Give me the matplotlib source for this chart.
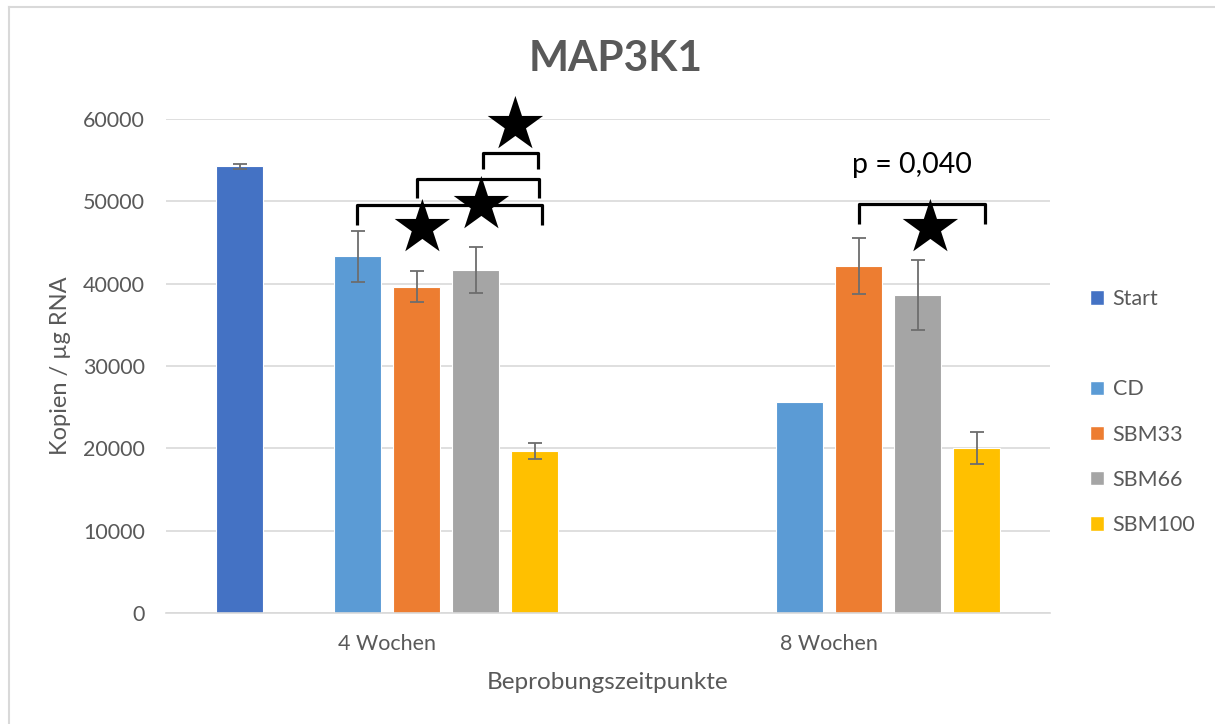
import matplotlib
matplotlib.use("Agg")
import matplotlib.pyplot as plt
from matplotlib.patches import Patch
from matplotlib.lines import Line2D
import numpy as np

plt.rcParams['font.family'] = ['Lato', 'DejaVu Sans']

# ---- data ----
categories = ["4 Wochen", "8 Wochen"]
series_names = ["Start", "", "CD", "SBM33", "SBM66", "SBM100"]
colors = ["#4472C4", "#FFFFFF", "#5B9BD5", "#ED7D31", "#A5A5A5", "#FFC000"]
start_vals = [54250, np.nan]
start_err = [300, np.nan]
blank_vals = [np.nan, np.nan]
blank_err = [np.nan, np.nan]
cd_vals = [43350, 25650]
cd_err = [3100, np.nan]
sbm33_vals = [39650, 42150]
sbm33_err = [1900, 3400]
sbm66_vals = [41650, 38600]
sbm66_err = [2800, 4250]
sbm100_vals = [19700, 20050]
sbm100_err = [1000, 1950]
yticks = [0, 10000, 20000, 30000, 40000, 50000, 60000]

values = [start_vals, blank_vals, cd_vals, sbm33_vals, sbm66_vals, sbm100_vals]
errors = [start_err, blank_err, cd_err, sbm33_err, sbm66_err, sbm100_err]

W, H = 1215, 724
fig = plt.figure(figsize=(W / 100, H / 100), dpi=100)
ax = fig.add_axes([166 / W, 1 - 613 / H, (1050 - 166) / W, (613 - 119) / H])

grey_txt = "#595959"
x = np.arange(len(categories))
slot = 59 / 442
bw = 47 / 442
for i, (vals, errs, col) in enumerate(zip(values, errors, colors)):
    if all(np.isnan(v) for v in vals):
        continue
    pos = x + (i - 2.5) * slot
    ax.bar(pos, vals, width=bw, color=col, edgecolor="white", linewidth=0.8, zorder=2)
    ax.errorbar(pos, vals, yerr=errs, fmt="none", ecolor="#6d6d6d",
                elinewidth=1.3, capsize=5, capthick=1.3, zorder=3)

ax.set_xlim(-0.5, 1.5)
ax.set_ylim(0, 60000)
ax.set_yticks(yticks)
ax.set_yticklabels([str(t) for t in yticks], fontsize=15.5, color=grey_txt)
ax.set_xticks(x)
ax.set_xticklabels(categories, fontsize=15.5, color=grey_txt)
ax.tick_params(axis="both", length=0)
ax.tick_params(axis="y", pad=15)
ax.tick_params(axis="x", pad=15)
ax.grid(axis="y", color="#D9D9D9", linewidth=1.2, zorder=0)
ax.set_axisbelow(True)
for s in ["top", "right", "left"]:
    ax.spines[s].set_visible(False)
ax.spines["bottom"].set_color("#D9D9D9")
ax.spines["bottom"].set_linewidth(1.2)

ax.set_ylabel("Kopien / µg RNA", fontsize=17, color=grey_txt, labelpad=9)
ax.set_xlabel("Beprobungszeitpunkte", fontsize=17.5, color=grey_txt, labelpad=13)
fig.text(616 / W, 1 - 59 / H, "MAP3K1", fontsize=30.5, fontweight="bold",
         color=grey_txt, ha="center", va="center")

# legend
handles = []
for n, c in zip(series_names, colors):
    if n == "":
        handles.append(Patch(facecolor="none", edgecolor="none", label=" "))
    else:
        handles.append(Patch(facecolor=c, edgecolor="white", label=n))
leg = fig.legend(handles=handles, loc="upper left", bbox_to_anchor=(1090 / W, 1 - 289 / H),
                 frameon=False, fontsize=15.5, labelspacing=1.17, handlelength=0.65,
                 handleheight=0.65, handletextpad=0.4, borderaxespad=0, borderpad=0)
for t in leg.get_texts():
    t.set_color(grey_txt)

# significance brackets
def bracket(x0, x1, ytop, ybot):
    xs = [x0, x0, x1, x1]
    ys = [ybot, ytop, ytop, ybot]
    ax.plot(xs, ys, color="black", lw=2.3, solid_joinstyle="round",
            solid_capstyle="butt", clip_on=False, zorder=4)

bracket(-0.067, 0.350, 49550, 47100)
bracket(0.069, 0.343, 52700, 50400)
bracket(0.217, 0.341, 55870, 53900)
bracket(1.067, 1.353, 49680, 47250)

star_pos = [(0.289, 58900), (0.212, 49200), (0.078, 46400), (1.228, 46400)]
for sx, sy in star_pos:
    ax.text(sx, sy, "★", fontsize=52, ha="center", va="center",
            family="DejaVu Sans", color="black", clip_on=False, zorder=5)
ax.text(1.187, 54400, "p = 0,040", fontsize=20.5, ha="center", va="center",
        color="black", clip_on=False, zorder=5)

# outer chart border (top and left visible)
fig.add_artist(Line2D([9 / W, 9 / W], [0, 1 - 7 / H], transform=fig.transFigure,
                      color="#D9D9D9", lw=1.5))
fig.add_artist(Line2D([9 / W, 1], [1 - 7 / H, 1 - 7 / H], transform=fig.transFigure,
                      color="#D9D9D9", lw=1.5))

fig.savefig("out.png", dpi=100, facecolor="white")
